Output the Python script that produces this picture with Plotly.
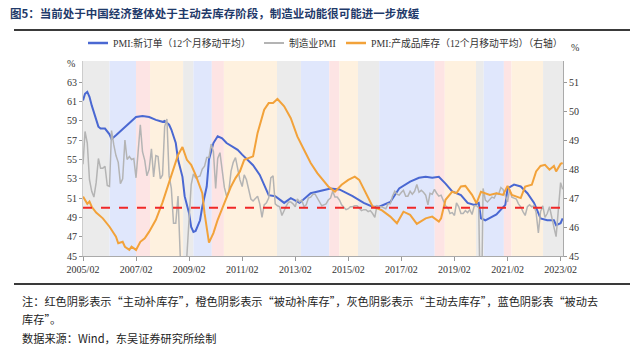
import plotly.graph_objects as go
import pandas as pd

# ---------------- data ----------------
# Manufacturing PMI (monthly, 2005/02 - 2023/03)
pmi_start = "2005-02"
pmi_vals = [
    54.5, 57.9, 56.7, 52.9, 51.7, 51.1, 52.6, 55.1, 54.1, 54.1, 54.3,
    52.3, 52.2, 58.0, 56.5, 55.4, 54.7, 52.5, 53.0, 57.0, 55.0, 55.3, 55.0,
    55.1, 53.1, 56.1, 58.6, 55.8, 54.9, 53.3, 54.0, 56.1, 53.2, 55.4, 55.3,
    53.0, 53.4, 58.4, 59.2, 53.3, 52.0, 48.4, 48.4, 51.2, 44.6, 38.8, 41.2,
    45.3, 49.0, 52.4, 53.5, 53.1, 53.2, 53.3, 54.0, 54.3, 55.2, 55.2, 56.6,
    55.8, 52.0, 55.1, 55.7, 53.9, 52.1, 51.2, 51.7, 53.8, 54.7, 55.2, 53.9,
    52.9, 52.2, 53.4, 52.9, 52.0, 50.9, 50.7, 50.9, 51.2, 50.4, 49.0, 50.3,
    50.5, 51.0, 53.1, 53.3, 50.4, 50.2, 50.1, 49.2, 49.8, 50.2, 50.6, 50.6,
    50.4, 50.1, 50.9, 50.6, 50.8, 50.1, 50.3, 51.0, 51.1, 51.4, 51.4, 51.0,
    50.5, 50.2, 50.3, 50.4, 50.8, 51.0, 51.7, 51.1, 51.1, 50.8, 50.3, 50.1,
    49.8, 49.9, 50.1, 50.1, 50.2, 50.2, 50.0, 49.7, 49.8, 49.8, 49.6, 49.7,
    49.4, 49.0, 50.2, 50.1, 50.1, 50.0, 49.9, 50.4, 50.4, 51.2, 51.7, 51.4,
    51.3, 51.6, 51.8, 51.2, 51.2, 51.7, 51.4, 51.7, 52.4, 51.6, 51.8, 51.6,
    51.3, 50.3, 51.5, 51.4, 51.9, 51.5, 51.2, 51.3, 50.8, 50.2, 50.0, 49.4,
    49.5, 49.2, 50.5, 50.1, 49.4, 49.4, 49.7, 49.5, 49.8, 49.3, 50.2, 50.2,
    50.0, 35.7, 52.0, 50.8, 50.6, 50.9, 51.1, 51.0, 51.5, 51.4, 52.1, 51.9,
    51.3, 50.6, 51.9, 51.1, 51.0, 50.9, 50.4, 50.1, 49.6, 49.2, 50.1, 50.3,
    50.1, 50.2, 49.5, 47.4, 49.6, 50.2, 49.0, 49.4, 50.1, 49.2, 48.0, 47.0,
    50.1, 52.6, 51.9,
]

# PMI: new orders, 12-month moving average (left axis)
neworder_dates = [
    "2005-02", "2005-03", "2005-04", "2005-05", "2005-06", "2005-07", "2005-08",
    "2005-09", "2005-10", "2005-12", "2006-02", "2006-03", "2006-05", "2006-08",
    "2006-11", "2007-02", "2007-05", "2007-08", "2007-11", "2008-02", "2008-03",
    "2008-05", "2008-06", "2008-08", "2008-09", "2008-11", "2008-12", "2009-02",
    "2009-03", "2009-04", "2009-05", "2009-07", "2009-08", "2009-10", "2009-11",
    "2010-01", "2010-03", "2010-05", "2010-07", "2010-09", "2010-12", "2011-02",
    "2011-05", "2011-07", "2011-10", "2012-02", "2012-05", "2012-09", "2012-12",
    "2013-04", "2013-09", "2014-01", "2014-06", "2014-10", "2015-04", "2015-09",
    "2016-01", "2016-04", "2016-09", "2017-01", "2017-06", "2017-10", "2018-01",
    "2018-04", "2018-07", "2018-10", "2019-01", "2019-05", "2019-08", "2019-11",
    "2020-01", "2020-02", "2020-04", "2020-09", "2020-12", "2021-01", "2021-02",
    "2021-05", "2021-08", "2021-11", "2022-02", "2022-05", "2022-08", "2022-11",
    "2022-12", "2023-02", "2023-03",
]
neworder_vals = [
    61.1, 61.8, 62.0, 61.5, 60.6, 59.8, 59.1,
    58.4, 58.2, 58.2, 57.6, 57.1, 57.5, 58.1,
    58.8, 59.4, 59.5, 59.4, 59.1, 58.9, 59.0,
    58.6, 58.1, 56.7, 55.0, 53.2, 51.2, 49.4,
    48.0, 47.5, 47.6, 48.7, 50.1, 52.2, 55.0,
    56.7, 57.4, 57.2, 56.7, 56.4, 56.0, 55.5,
    54.9, 54.4, 53.4, 51.3, 51.2, 50.5, 51.0,
    50.5, 51.5, 51.7, 52.0, 51.9, 51.2, 50.5,
    50.1, 50.1, 50.6, 52.0, 52.7, 53.1, 53.2,
    53.1, 53.2, 52.5, 51.7, 51.3, 50.5, 50.3,
    50.5, 48.9, 48.7, 49.3, 50.1, 50.3, 52.0,
    52.4, 52.2, 51.5, 50.5, 48.9, 48.7, 48.7,
    48.2, 48.4, 48.9,
]

# PMI: finished goods inventory, 12-month moving average (right axis)
inventory_dates = [
    "2005-02", "2005-03", "2005-04", "2005-05", "2005-06", "2005-08", "2005-11",
    "2006-02", "2006-05", "2006-06", "2006-08", "2006-09", "2006-11", "2006-12",
    "2007-02", "2007-04", "2007-06", "2007-08", "2007-11", "2008-02", "2008-05",
    "2008-07", "2008-09", "2008-11", "2009-01", "2009-03", "2009-05", "2009-08",
    "2009-09", "2009-11", "2010-01", "2010-03", "2010-06", "2010-09", "2010-11",
    "2011-01", "2011-03", "2011-07", "2011-09", "2011-12", "2012-02", "2012-04",
    "2012-06", "2012-09", "2012-12", "2013-03", "2013-06", "2013-09", "2013-12",
    "2014-05", "2014-08", "2014-11", "2015-02", "2015-05", "2015-07", "2015-10",
    "2016-01", "2016-05", "2016-09", "2016-12", "2017-03", "2017-06", "2017-09",
    "2018-01", "2018-04", "2018-07", "2018-08", "2018-10", "2019-01", "2019-03",
    "2019-05", "2019-07", "2019-10", "2019-12", "2020-02", "2020-06", "2020-09",
    "2020-12", "2021-02", "2021-04", "2021-06", "2021-08", "2021-10", "2022-01",
    "2022-03", "2022-05", "2022-07", "2022-09", "2022-11", "2022-12", "2023-02",
    "2023-03",
]
inventory_vals = [
    47.05, 46.95, 46.80, 46.88, 46.70, 46.50, 46.30,
    46.01, 45.67, 45.44, 45.49, 45.32, 45.21, 45.32,
    45.21, 45.49, 45.61, 45.84, 46.25, 46.85, 47.52,
    47.98, 48.49, 48.76, 48.32, 48.15, 47.80, 47.17,
    46.48, 45.46, 45.79, 46.25, 46.82, 47.40, 47.69,
    47.92, 48.32, 48.44, 49.25, 50.05, 50.28, 50.28,
    50.42, 50.17, 49.76, 49.13, 48.67, 48.21, 47.86,
    47.40, 47.22, 47.46, 47.63, 47.74, 47.63, 47.17,
    46.71, 46.59, 46.36, 46.13, 46.53, 46.42, 46.11,
    46.30, 46.36, 46.19, 46.30, 46.94, 47.22, 47.17,
    47.40, 47.42, 47.11, 46.82, 47.22, 47.11, 47.17,
    47.11, 47.42, 47.11, 47.05, 47.00, 47.40, 47.46,
    47.92, 48.11, 48.15, 47.98, 48.11, 47.92, 48.18,
    48.21,
]

# inventory-cycle phases (shaded periods)
phase_starts = [
    "2005-02-01", "2006-02-01", "2007-02-01", "2007-08-13", "2008-11-10",
    "2009-04-01", "2009-12-10", "2010-05-25", "2012-05-25", "2013-04-20",
    "2014-05-15", "2014-10-01", "2015-06-15", "2016-04-01", "2018-05-05",
    "2018-09-20", "2019-11-25", "2020-03-10", "2020-12-12", "2021-03-28",
    "2022-06-05",
]
phase_ends = phase_starts[1:] + ["2023-03-06"]
phase_types = [
    "gray", "blue", "red", "orange", "gray",
    "blue", "red", "orange", "gray", "blue",
    "red", "orange", "gray", "blue", "red",
    "orange", "gray", "blue", "red", "orange",
    "gray",
]

x_tick_labels = ["2005/02", "2007/02", "2009/02", "2011/02", "2013/02",
                 "2015/02", "2017/02", "2019/02", "2021/02", "2023/02"]
left_ticks = [45, 47, 49, 51, 53, 55, 57, 59, 61, 63]
right_ticks = [45, 46, 47, 48, 49, 50, 51]
threshold = 50

title_text = "图5：当前处于中国经济整体处于主动去库存阶段，制造业动能很可能进一步放缓"
legend_names = ["PMI:新订单（12个月移动平均）", "制造业PMI",
                "PMI:产成品库存（12个月移动平均）（右轴）"]
note_line1 = "注：红色阴影表示“主动补库存”，橙色阴影表示“被动补库存”，灰色阴影表示“主动去库存”，蓝色阴影表“被动去"
note_line2 = "库存”。"
source_text = "数据来源：Wind，东吴证券研究所绘制"

# ---------------- figure ----------------
pmi_dates = pd.date_range(pmi_start + "-01", periods=len(pmi_vals), freq="MS")

W, H = 640, 357
L, R, T, B = 83, 77, 61, 101
PW, PH = W - L - R, H - T - B

def px(x):
    return (x - L) / PW

def py(y):
    return (H - B - y) / PH

BLUE = "#4a68d2"
GRAY = "#b4b4b4"
ORANGE = "#f2a23a"
shade_colors = {"gray": "rgb(235,235,235)", "blue": "rgb(224,231,252)",
                "red": "rgb(253,228,228)", "orange": "rgb(254,241,223)"}

fig = go.Figure()

fig.add_trace(go.Scatter(x=pd.to_datetime([d + "-01" for d in neworder_dates]), y=neworder_vals,
                         mode="lines", line=dict(color=BLUE, width=2), name=legend_names[0]))
fig.add_trace(go.Scatter(x=pmi_dates, y=pmi_vals, mode="lines",
                         line=dict(color=GRAY, width=1.5), name=legend_names[1]))
fig.add_trace(go.Scatter(x=pd.to_datetime([d + "-01" for d in inventory_dates]), y=inventory_vals,
                         mode="lines", line=dict(color=ORANGE, width=2), name=legend_names[2],
                         yaxis="y2"))

shapes = []
for s, e, t in zip(phase_starts, phase_ends, phase_types):
    shapes.append(dict(type="rect", xref="x", yref="paper", x0=s, x1=e, y0=0, y1=1,
                       fillcolor=shade_colors[t], line=dict(width=0), layer="below"))
shapes.append(dict(type="line", xref="paper", yref="y", x0=0, x1=1, y0=threshold, y1=threshold,
                   line=dict(color="#f02828", width=1.8, dash="dash"), layer="above"))
# rules
shapes.append(dict(type="line", xref="paper", yref="paper", x0=px(14), x1=px(630),
                   y0=py(30), y1=py(30), line=dict(color="#3a3a3a", width=2)))
shapes.append(dict(type="line", xref="paper", yref="paper", x0=px(14), x1=px(630),
                   y0=py(284), y1=py(284), line=dict(color="#3a3a3a", width=2)))

# custom legend
leg_y = 43
leg_items = [(88, 108, 111, BLUE, 2), (264, 284, 287, GRAY, 1.5), (346, 366, 369, ORANGE, 2)]
annotations = []
for (x0, x1, tx, col, w), name in zip(leg_items, legend_names):
    shapes.append(dict(type="line", xref="paper", yref="paper", x0=px(x0), x1=px(x1),
                       y0=py(leg_y), y1=py(leg_y), line=dict(color=col, width=w + 0.5)))
    annotations.append(dict(text=name, xref="paper", yref="paper", x=px(tx), y=py(leg_y),
                            xanchor="left", yanchor="middle", showarrow=False,
                            font=dict(size=9.8, color="#333333",
                                      family="Liberation Serif, Noto Sans CJK SC")))

annotations += [
    dict(text=title_text, xref="paper", yref="paper", x=px(8), y=py(13), xanchor="left",
         yanchor="middle", showarrow=False,
         font=dict(size=11.5, color="#1f3a6a", family="Noto Sans CJK SC", weight="bold")),
    dict(text="%", xref="paper", yref="paper", x=px(71), y=py(64), xanchor="center",
         yanchor="middle", showarrow=False,
         font=dict(size=10, color="#333333", family="Liberation Serif")),
    dict(text="%", xref="paper", yref="paper", x=px(575), y=py(47), xanchor="center",
         yanchor="middle", showarrow=False,
         font=dict(size=10, color="#333333", family="Liberation Serif")),
    dict(text=note_line1, xref="paper", yref="paper", x=px(20), y=py(301), xanchor="left",
         yanchor="middle", showarrow=False,
         font=dict(size=11.2, color="#222222", family="Noto Sans CJK SC")),
    dict(text=note_line2, xref="paper", yref="paper", x=px(20), y=py(319), xanchor="left",
         yanchor="middle", showarrow=False,
         font=dict(size=11.2, color="#222222", family="Noto Sans CJK SC")),
    dict(text=source_text, xref="paper", yref="paper", x=px(20), y=py(338), xanchor="left",
         yanchor="middle", showarrow=False,
         font=dict(size=11.2, color="#222222", family="Noto Sans CJK SC")),
]

tick_font = dict(size=10, color="#333333", family="Liberation Serif, Times New Roman, serif")
fig.update_layout(
    width=W, height=H, margin=dict(l=L, r=R, t=T, b=B, pad=0),
    paper_bgcolor="white", plot_bgcolor="white", showlegend=False,
    shapes=shapes, annotations=annotations,
    xaxis=dict(type="date", range=["2005-02-01", "2023-03-06"],
               tickvals=[pd.Timestamp(f"{l[:4]}-{l[5:]}-01") for l in x_tick_labels],
               ticktext=x_tick_labels, showgrid=False, zeroline=False,
               ticks="outside", ticklen=4, tickcolor="#999999", showline=True,
               linecolor="#aaaaaa", linewidth=1, tickfont=tick_font),
    yaxis=dict(range=[45, 65.2], tickvals=left_ticks, showgrid=False, zeroline=False,
               ticks="outside", ticklen=3, tickcolor="#999999", showline=True,
               linecolor="#cccccc", linewidth=1, tickfont=tick_font),
    yaxis2=dict(range=[45, 45 + 20.2 / 3], tickvals=right_ticks, overlaying="y", side="right",
                showgrid=False, zeroline=False, ticks="outside", ticklen=3,
                tickcolor="#999999", showline=True, linecolor="#aaaaaa", linewidth=1,
                tickfont=tick_font),
)

fig.write_html("out.html", config={"displayModeBar": False},
               post_script="document.body.style.margin='0';document.body.style.padding='0';"
                           "document.body.style.overflow='hidden';")
